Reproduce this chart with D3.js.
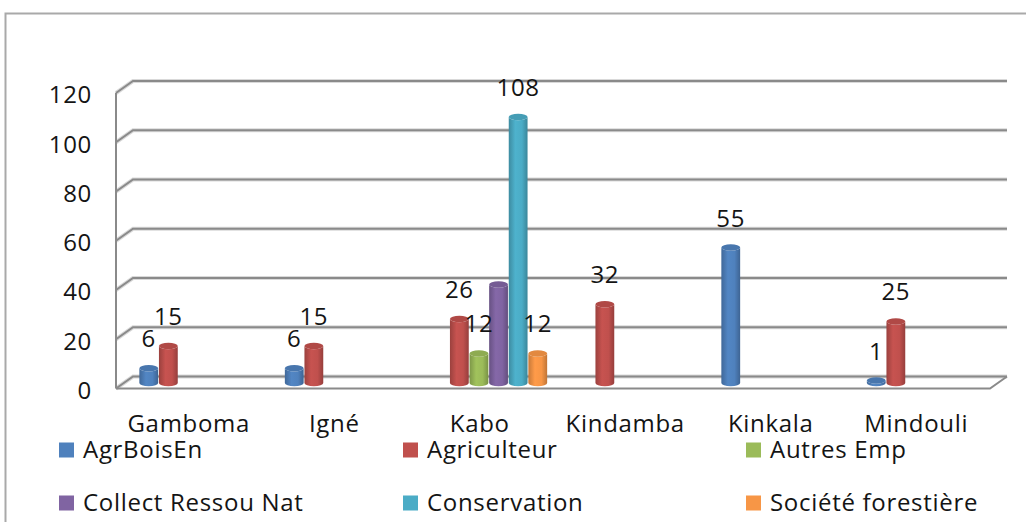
<!DOCTYPE html>
<html><head><meta charset="utf-8">
<script src="https://cdn.jsdelivr.net/npm/d3@7"></script>
<style>
html,body{margin:0;padding:0;background:#fff;}
svg{display:block;}
text{font-family:"Open Sans","Noto Sans",sans-serif;fill:#141414;letter-spacing:0.7px;}
</style></head>
<body>
<svg id="chart" width="1026" height="522"></svg>
<script>
const categories = ["Gamboma", "Igné", "Kabo", "Kindamba", "Kinkala", "Mindouli"];
const seriesNames = ["AgrBoisEn", "Agriculteur", "Autres Emp", "Collect Ressou Nat", "Conservation", "Société forestière"];
const AgrBoisEn = [6, 6, null, null, 55, 1];
const Agriculteur = [15, 15, 26, 32, null, 25];
const AutresEmp = [null, null, 12, null, null, null];
const CollectRessouNat = [null, null, 40, null, null, null];
const Conservation = [null, null, 108, null, null, null];
const SocieteForestiere = [null, null, 12, null, null, null];
const hiddenLabels = [["Kabo", "Collect Ressou Nat"]];
const yTicks = [0, 20, 40, 60, 80, 100, 120];
const colors = ["#4F81BD", "#C0504D", "#9BBB59", "#8064A2", "#4BACC6", "#F79646"];

const seriesValues = [AgrBoisEn, Agriculteur, AutresEmp, CollectRessouNat, Conservation, SocieteForestiere];

const svg = d3.select("#chart");
const defs = svg.append("defs");
const FS = 24;

// 3D geometry
const depthX = 17, depthY = 12;
const frontLeft = 116, backRight = 1007;
const yBack = d3.scaleLinear().domain([0, 120]).range([376.5, 81]);
const yFront = v => yBack(v) + depthY;
const yMid = v => yBack(v) + 6.5;

const x0 = d3.scaleBand().domain(categories).range([125, 998]).paddingInner(0).paddingOuter(0);
const innerW = 117.6;
const x1 = d3.scaleBand().domain(seriesNames).range([0, innerW]);
const innerOff = (x0.bandwidth() - innerW) / 2;

// outer border
svg.append("path").attr("d", "M5.5,522 V13.5 H1026").attr("fill", "none")
  .attr("stroke", "#a9a9a9").attr("stroke-width", 2);

// gradients for cylinders
colors.forEach((c, i) => {
  const g = defs.append("linearGradient").attr("id", "g" + i).attr("x1", "0").attr("x2", "1").attr("y1", "0").attr("y2", "0");
  const base = d3.color(c);
  g.append("stop").attr("offset", "0%").attr("stop-color", base.darker(0.6));
  g.append("stop").attr("offset", "35%").attr("stop-color", base.brighter(0.1));
  g.append("stop").attr("offset", "70%").attr("stop-color", base);
  g.append("stop").attr("offset", "100%").attr("stop-color", base.darker(0.7));
});

// gridlines
const grid = svg.append("g");
yTicks.forEach(t => {
  const yb = yBack(t), yf = yFront(t);
  grid.append("path")
    .attr("d", `M${frontLeft},${yf} L${frontLeft + depthX},${yb} H${backRight}`)
    .attr("fill", "none").attr("stroke", "#d9d9d9").attr("stroke-width", 4);
  grid.append("path")
    .attr("d", `M${frontLeft},${yf} L${frontLeft + depthX},${yb} H${backRight}`)
    .attr("fill", "none").attr("stroke", "#8a8a8a").attr("stroke-width", 2);
});
// left wall vertical edge
grid.append("line").attr("x1", frontLeft).attr("x2", frontLeft)
  .attr("y1", yFront(120)).attr("y2", yFront(0))
  .attr("stroke", "#8a8a8a").attr("stroke-width", 2);
// floor front edge
grid.append("path")
  .attr("d", `M${frontLeft},${yFront(0)} H${backRight - depthX} L${backRight},${yBack(0)}`)
  .attr("fill", "none").attr("stroke", "#8a8a8a").attr("stroke-width", 2);

// y tick labels
svg.append("g").selectAll("text").data(yTicks).join("text")
  .attr("x", 92).attr("y", d => yFront(d) + 2)
  .attr("dy", "0.35em").attr("text-anchor", "end")
  .attr("font-size", FS).text(d => d);

// bars
const bars = [];
seriesValues.forEach((vals, si) => {
  vals.forEach((v, ci) => {
    if (v == null) return;
    bars.push({ cat: categories[ci], ser: seriesNames[si], si, v });
  });
});

const ry = 3.2;
const barG = svg.append("g");
bars.forEach(b => {
  const cx = x0(b.cat) + innerOff + x1(b.ser) + x1.bandwidth() / 2;
  const rx = x1.bandwidth() / 2 - 0.4;
  const yb = yMid(0), yt = yMid(b.v);
  b.cx = cx; b.yt = yt;
  barG.append("path")
    .attr("d", `M${cx - rx},${yt} L${cx - rx},${yb} A${rx},${ry} 0 0 0 ${cx + rx},${yb} L${cx + rx},${yt} A${rx},${ry} 0 0 1 ${cx - rx},${yt} Z`)
    .attr("fill", `url(#g${b.si})`);
  barG.append("ellipse").attr("cx", cx).attr("cy", yt).attr("rx", rx).attr("ry", ry)
    .attr("fill", d3.color(colors[b.si]).darker(0.25));
});

// data labels
const isHidden = b => hiddenLabels.some(h => h[0] === b.cat && h[1] === b.ser);
svg.append("g").selectAll("text").data(bars.filter(b => !isHidden(b))).join("text")
  .attr("x", b => b.cx).attr("y", b => b.yt - 21)
  .attr("text-anchor", "middle").attr("font-size", FS)
  .text(b => b.v);

// category labels
svg.append("g").selectAll("text").data(categories).join("text")
  .attr("x", d => x0(d) + x0.bandwidth() / 2 - 9).attr("y", 432)
  .attr("text-anchor", "middle").attr("font-size", FS).text(d => d);

// legend
const legCols = [59, 403, 746];
const legRows = [450, 503];
const leg = svg.append("g");
seriesNames.forEach((s, i) => {
  const lx = legCols[i % 3], ly = legRows[Math.floor(i / 3)];
  leg.append("rect").attr("x", lx).attr("y", ly - 7.5).attr("width", 15).attr("height", 15)
    .attr("fill", colors[i]);
  leg.append("text").attr("x", lx + 24).attr("y", ly).attr("dy", "0.35em")
    .attr("font-size", FS).text(s);
});
</script>
</body></html>
